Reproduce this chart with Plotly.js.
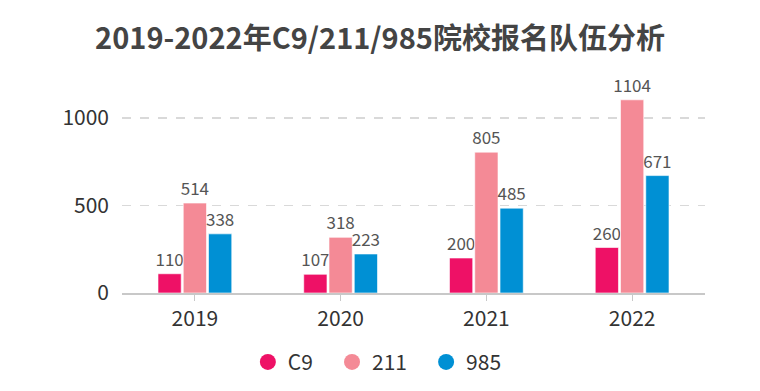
<!DOCTYPE html>
<html><head><meta charset="utf-8">
<script src="https://cdn.plot.ly/plotly-3.0.1.min.js"></script>
<style>html,body{margin:0;padding:0;background:#fff}#chart{width:760px;height:391px}</style>
</head><body><div id="chart"></div>
<script>
const years = ['2019','2020','2021','2022'];
const seriesNames = ['C9','211','985'];
const c9 = [110,107,200,260];
const s211 = [514,318,805,1104];
const s985 = [338,223,485,671];
const colors = ['#EE1166','#F48A96','#0090D4'];
const values = [c9, s211, s985];
const font = '"Noto Sans CJK SC", "Noto Sans", sans-serif';

const traces = [];
values.forEach((v,i)=>{
  traces.push({type:'bar', x:years, y:v, name:seriesNames[i], showlegend:false,
    marker:{color:colors[i], line:{color:'rgba(255,255,255,0.6)', width:1}},
    text:v.map(String), textposition:'outside', cliponaxis:false, textangle:0, constraintext:'none',
    textfont:{size:17, color:'#555', family:font}, hoverinfo:'x+y'});
});
values.forEach((v,i)=>{
  const pad = i < values.length - 1 ? '&nbsp;&nbsp;&nbsp;' : '';
  traces.push({type:'scatter', mode:'markers', x:[null], y:[null], name:seriesNames[i] + pad,
    marker:{color:colors[i], size:19, symbol:'circle'}, showlegend:true});
});

const layout = {
  width:760, height:391,
  margin:{l:122, r:55, t:83, b:98, autoexpand:false},
  paper_bgcolor:'#fff', plot_bgcolor:'#fff',
  title:{text:'<b>2019-2022年C9/211/985院校报名队伍分析</b>', x:0.5, xanchor:'center', y:0.9, yanchor:'middle',
    font:{size:29, color:'#444', family:font}},
  barmode:'group', bargap:0.48, bargroupgap:0.08,
  xaxis:{type:'category', automargin:false, showline:true, linecolor:'#c8c8c8', linewidth:1.5, ticks:'outside', ticklen:6, tickcolor:'#c8c8c8',
    tickfont:{size:21, color:'#333', family:font}, showgrid:false},
  yaxis:{range:[0,1200], automargin:false, tickvals:[0,500,1000], showgrid:true, gridcolor:'#d9d9d9', griddash:'dash', gridwidth:1.5,
    zeroline:false, showline:false, tickfont:{size:21, color:'#333', family:font}, ticks:'', ticklabelstandoff:12},
  legend:{orientation:'h', x:0.438, xanchor:'center', y:-0.33, yanchor:'middle', font:{size:21, color:'#333', family:font},
    itemwidth:30, tracegroupgap:0},
  showlegend:true
};
Plotly.newPlot('chart', traces, layout, {displayModeBar:false, staticPlot:true});
</script></body></html>
